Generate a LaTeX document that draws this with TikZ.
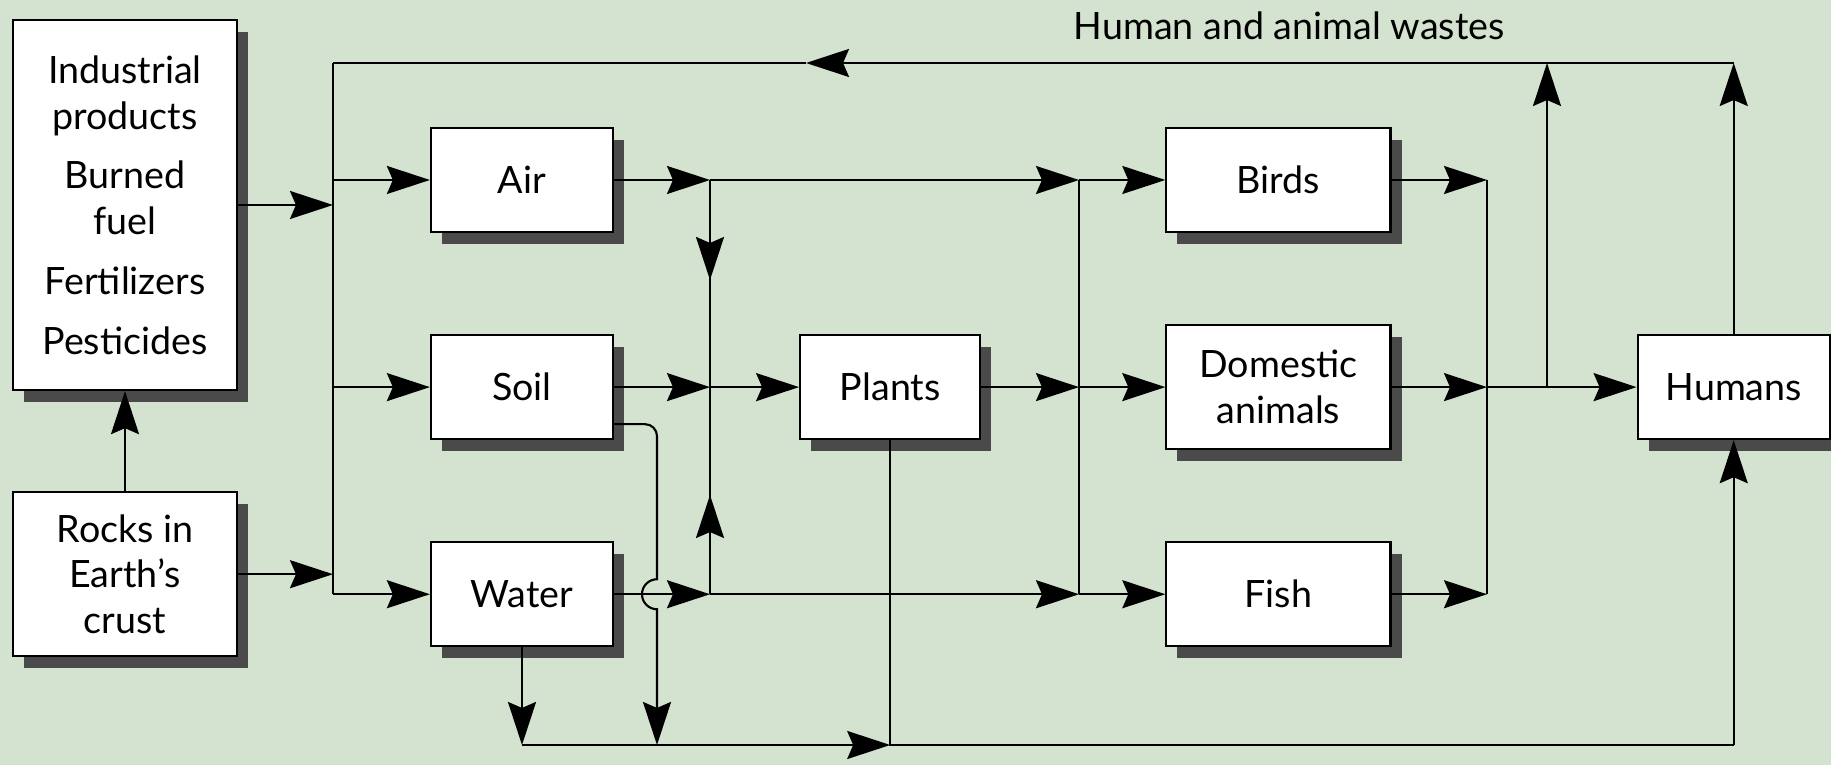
\documentclass[tikz,border=0pt]{standalone}
\usepackage{fontspec}
\setmainfont{Lato}
\usetikzlibrary{arrows.meta, positioning, shadows}
\definecolor{paper}{RGB}{212,227,207}
\definecolor{shade}{RGB}{74,74,74}
\tikzstyle{stage}=[rectangle, draw=black, fill=white, line width=0.6pt, inner sep=0pt, align=center, minimum width=1.82cm, minimum height=1.04cm, font=\fontsize{10.7}{13}\selectfont, drop shadow={shadow xshift=0.11cm, shadow yshift=-0.12cm, fill=shade, opacity=1}]
\tikzstyle{flow}=[-{Stealth[length=0.43cm, width=0.28cm, inset=0.06cm]}]

\begin{document}
\begin{tikzpicture}[x=0.01cm, y=-0.01cm, line width=0.6pt, node distance=2.07cm]
  \fill[paper] (0,0) rectangle (1831,765);
  \useasboundingbox (0,0) rectangle (1831,765);
  % boxes
  \node[stage, minimum width=2.24cm, minimum height=3.70cm] (ind) at (125,205) {Industrial\\products\\[4pt]Burned\\fuel\\[4pt]Fertilizers\\[4pt]Pesticides};
  \node[stage, minimum width=2.24cm, minimum height=1.64cm] (rocks) [below of=ind, node distance=3.69cm] {Rocks in\\Earth’s\\crust};
  \node[stage] (air) at (522,180) {Air};
  \node[stage] (soil) [below of=air] {Soil};
  \node[stage] (water) [below of=soil] {Water};
  \node[stage, minimum width=1.8cm] (plants) [right of=soil, node distance=3.68cm] {Plants};
  \node[stage, minimum width=2.24cm, minimum height=1.24cm] (domestic) [right of=plants, node distance=3.88cm] {Domestic\\animals};
  \node[stage, minimum width=2.24cm] (birds) [above of=domestic] {Birds};
  \node[stage, minimum width=2.24cm] (fish) [below of=domestic] {Fish};
  \node[stage, minimum width=1.92cm] (humans) [right of=domestic, node distance=4.55cm] {Humans};
  \node[font=\fontsize{10.7}{13}\selectfont] (wastes) at (1289,26) {Human and animal wastes};

  \coordinate (busL) at (333,63);
  \coordinate (colA) at (710,0);
  \coordinate (colB) at (1079,0);
  \coordinate (colC) at (1487,0);
  \coordinate (colD) at (1547,0);
  \coordinate (hopx) at (657,0);
  \coordinate (bot) at (0,745);
  \coordinate (wtip) at (806,63);
  \coordinate (downtip) at (710,280);
  \coordinate (uptip) at (710,495);
  \coordinate (soilout) at ([yshift=-0.37cm]soil.east);
  \coordinate (hopc) at (water.east -| hopx);
  \coordinate (hoptop) at ([yshift=0.15cm]hopc);

  % left bus
  \draw (busL) -- (busL |- water.west);
  \draw[flow] (ind.east) -- (ind.east -| busL);
  \draw[flow] (rocks.east) -- (rocks.east -| busL);
  \draw[flow] (rocks.north) -- (ind.south);
  \draw[flow] (air.west -| busL) -- (air.west);
  \draw[flow] (soil.west -| busL) -- (soil.west);
  \draw[flow] (water.west -| busL) -- (water.west);

  % column A
  \draw[flow] (air.east) -- (air.east -| colA);
  \draw[flow] (soil.east) -- (soil.east -| colA);
  \draw[flow] (water.east) -- (water.east -| colA);
  \draw (air.east -| colA) -- (water.east -| colA);
  \draw[flow] (air.east -| colA) -- (downtip);
  \draw[flow] (water.east -| colA) -- (uptip);
  \draw[flow] (soil.east -| colA) -- (plants.west);

  % column B
  \draw[flow] (air.east -| colA) -- (air.east -| colB);
  \draw[flow] (plants.east) -- (plants.east -| colB);
  \draw[flow] (water.east -| colA) -- (water.east -| colB);
  \draw (air.east -| colB) -- (water.east -| colB);
  \draw[flow] (air.east -| colB) -- (birds.west);
  \draw[flow] (plants.east -| colB) -- (domestic.west);
  \draw[flow] (water.east -| colB) -- (fish.west);

  % column C
  \draw[flow] (birds.east) -- (birds.east -| colC);
  \draw[flow] (domestic.east) -- (domestic.east -| colC);
  \draw[flow] (fish.east) -- (fish.east -| colC);
  \draw (birds.east -| colC) -- (fish.east -| colC);
  \draw[flow] (domestic.east -| colC) -- (humans.west);
  \draw[flow] (domestic.east -| colD) -- (colD |- busL);

  % wastes back to the bus
  \draw[flow] (humans.north) -- (humans.north |- busL);
  \draw[flow] (humans.north |- busL) -- (wtip);
  \draw (wtip) -- (busL);

  % bottom line
  \draw[flow] (water.south) -- (water.south |- bot);
  \draw[flow, rounded corners=0.12cm] (soilout) -- (soilout -| hopx) [sharp corners] -- (hoptop) arc[start angle=90, end angle=270, radius=0.15cm] -- (hopx |- bot);
  \draw[flow] (water.south |- bot) -- (plants.south |- bot);
  \draw (plants.south) -- (plants.south |- bot) -- (humans.south |- bot);
  \draw[flow] (humans.south |- bot) -- (humans.south);
\end{tikzpicture}
\end{document}
